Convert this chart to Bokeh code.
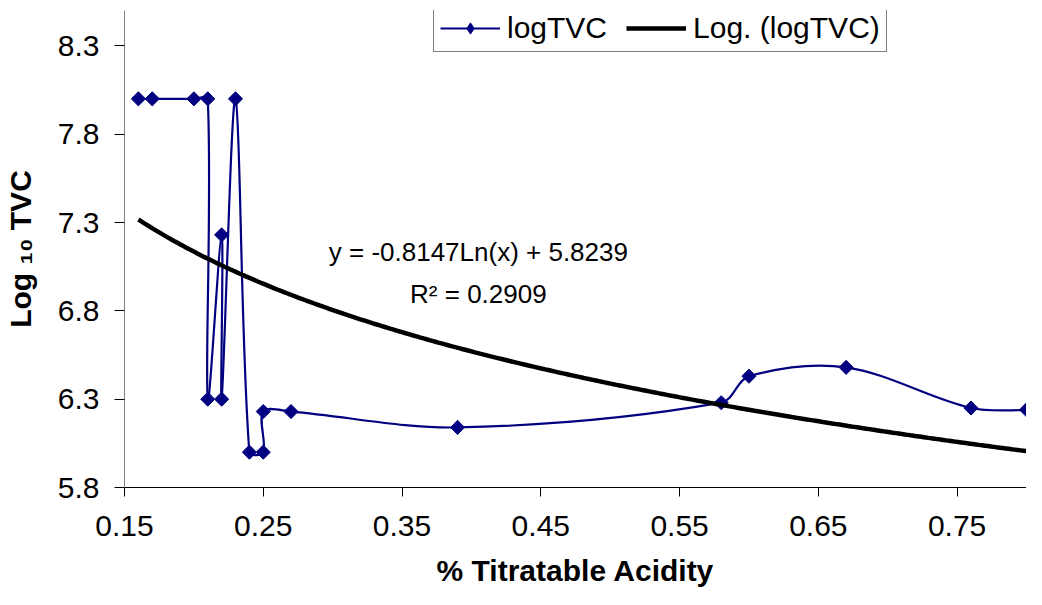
import numpy as np
from bokeh.plotting import figure
from bokeh.models import Range1d, FixedTicker, Label, Legend, LegendItem, ColumnDataSource
from bokeh.embed import file_html
from bokeh.resources import INLINE

# ---------------- data ----------------
ACIDITY = [0.16, 0.17, 0.20, 0.21, 0.21, 0.22, 0.22, 0.23, 0.24, 0.25, 0.25,
           0.27, 0.39, 0.58, 0.60, 0.67, 0.76, 0.80]
LOG_TVC = [8.00, 8.00, 8.00, 8.00, 6.30, 7.23, 6.30, 8.00, 6.00, 6.00, 6.23,
           6.23, 6.14, 6.28, 6.43, 6.48, 6.25, 6.24]

TREND_SLOPE = -0.8147
TREND_INTERCEPT = 5.8239

X_TICKS = [0.15, 0.25, 0.35, 0.45, 0.55, 0.65, 0.75]
X_TICK_LABELS = ["0.15", "0.25", "0.35", "0.45", "0.55", "0.65", "0.75"]
Y_TICKS = [5.8, 6.3, 6.8, 7.3, 7.8, 8.3]
Y_TICK_LABELS = ["5.8", "6.3", "6.8", "7.3", "7.8", "8.3"]

SERIES_NAME = "logTVC"
TREND_NAME = "Log. (logTVC)"
EQUATION_TEXT = "y = -0.8147Ln(x) + 5.8239"
R2_TEXT = "R\u00b2 = 0.2909"
X_TITLE = "% Titratable Acidity"
Y_TITLE = "Log \u2081\u2080 TVC"

# ---------------- layout / style ----------------
FONT = "Liberation Sans"
NAVY = "#000080"
X_START, X_END = 0.15, 0.80
Y_START, Y_END = 5.8, 8.50
FIG_W, FIG_H = 1026, 589

p = figure(width=FIG_W, height=FIG_H,
           x_range=Range1d(X_START, X_END), y_range=Range1d(Y_START, Y_END),
           output_backend="svg", toolbar_location=None,
           min_border_left=121, min_border_right=0,
           min_border_top=10, min_border_bottom=0)
p.min_border_right = 0
p.grid.visible = False
p.outline_line_color = None
p.background_fill_color = "white"
p.border_fill_color = "white"

# axes
p.xaxis.ticker = FixedTicker(ticks=X_TICKS)
p.xaxis.major_label_overrides = dict(zip(X_TICKS, X_TICK_LABELS))
p.yaxis.ticker = FixedTicker(ticks=Y_TICKS)
p.yaxis.major_label_overrides = dict(zip(Y_TICKS, Y_TICK_LABELS))
for ax in (p.xaxis, p.yaxis):
    ax.minor_tick_line_color = None
    ax.major_tick_in = 0
    ax.major_tick_line_color = "black"
    ax.major_label_text_font = FONT
    ax.major_label_text_font_size = "30px"
    ax.major_label_text_color = "black"
    ax.axis_label_text_font = FONT
    ax.axis_label_text_font_size = "30px"
    ax.axis_label_text_font_style = "bold"
    ax.axis_label_text_color = "black"
p.xaxis.axis_line_color = "black"
p.xaxis.major_tick_out = 9
p.xaxis.major_label_standoff = 19
p.xaxis.axis_label = X_TITLE
p.xaxis.axis_label_standoff = 15
p.yaxis.axis_line_color = "#808080"
p.yaxis.major_tick_out = 10
p.yaxis.major_label_standoff = 15
p.yaxis.axis_label = Y_TITLE
p.yaxis.axis_label_standoff = 18

# ---------------- smoothed series (Excel-like bezier) ----------------
# approximate pixel scale, used only to shape the smoothing
kx = 905.0 / (X_END - X_START)
ky = 468.0 / (Y_END - Y_START)
P = np.column_stack([np.array(ACIDITY) * kx, np.array(LOG_TVC) * ky])
n = len(P)
c_in = P.copy()   # control point before each point
c_out = P.copy()  # control point after each point
T = 1.0 / 3.0
for i in range(1, n - 1):
    d01 = np.hypot(*(P[i] - P[i - 1]))
    d12 = np.hypot(*(P[i + 1] - P[i]))
    s = d01 + d12
    if s <= 0:
        continue
    diff = P[i + 1] - P[i - 1]
    c_in[i] = P[i] - T * d01 / s * diff
    c_out[i] = P[i] + T * d12 / s * diff
seg = dict(x0=[], y0=[], x1=[], y1=[], cx0=[], cy0=[], cx1=[], cy1=[])
for i in range(n - 1):
    seg["x0"].append(ACIDITY[i]); seg["y0"].append(LOG_TVC[i])
    seg["x1"].append(ACIDITY[i + 1]); seg["y1"].append(LOG_TVC[i + 1])
    seg["cx0"].append(c_out[i][0] / kx); seg["cy0"].append(c_out[i][1] / ky)
    seg["cx1"].append(c_in[i + 1][0] / kx); seg["cy1"].append(c_in[i + 1][1] / ky)
p.bezier(x0="x0", y0="y0", x1="x1", y1="y1", cx0="cx0", cy0="cy0",
         cx1="cx1", cy1="cy1", source=ColumnDataSource(seg),
         line_color=NAVY, line_width=2.2)

pts = p.scatter(x=ACIDITY, y=LOG_TVC, marker="square", angle=np.pi / 4, size=10,
                fill_color=NAVY, line_color=NAVY, line_width=1)

# legend-only helpers (no visible data)
leg_line = p.line(x=[np.nan], y=[np.nan], line_color=NAVY, line_width=2.2)
leg_mark = p.scatter(x=[np.nan], y=[np.nan], marker="diamond", size=10,
                     fill_color=NAVY, line_color=NAVY, line_width=1)

# trend line from the displayed equation
trend_x = np.linspace(min(ACIDITY), max(ACIDITY), 300)
trend_y = TREND_SLOPE * np.log(trend_x) + TREND_INTERCEPT
trend = p.line(x=trend_x, y=trend_y, line_color="black", line_width=4.5)

# equation labels
p.add_layout(Label(x=0.405, y=7.135, text=EQUATION_TEXT, text_align="center",
                   text_baseline="alphabetic", text_font=FONT,
                   text_font_size="26px", text_color="black"))
p.add_layout(Label(x=0.405, y=6.893, text=R2_TEXT, text_align="center",
                   text_baseline="alphabetic", text_font=FONT,
                   text_font_size="26px", text_color="black"))

legend = Legend(items=[LegendItem(label=SERIES_NAME, renderers=[leg_line, leg_mark]),
                       LegendItem(label=TREND_NAME, renderers=[trend])],
                location=(309, 435), orientation="horizontal",
                glyph_width=60, glyph_height=28, label_standoff=7, spacing=19,
                padding=6, margin=0,
                label_text_font=FONT, label_text_font_size="30px",
                label_text_color="black",
                border_line_color="black", border_line_width=1,
                background_fill_color="white", background_fill_alpha=1.0)
p.add_layout(legend)

open("out.html", "w").write(file_html(p, INLINE))
